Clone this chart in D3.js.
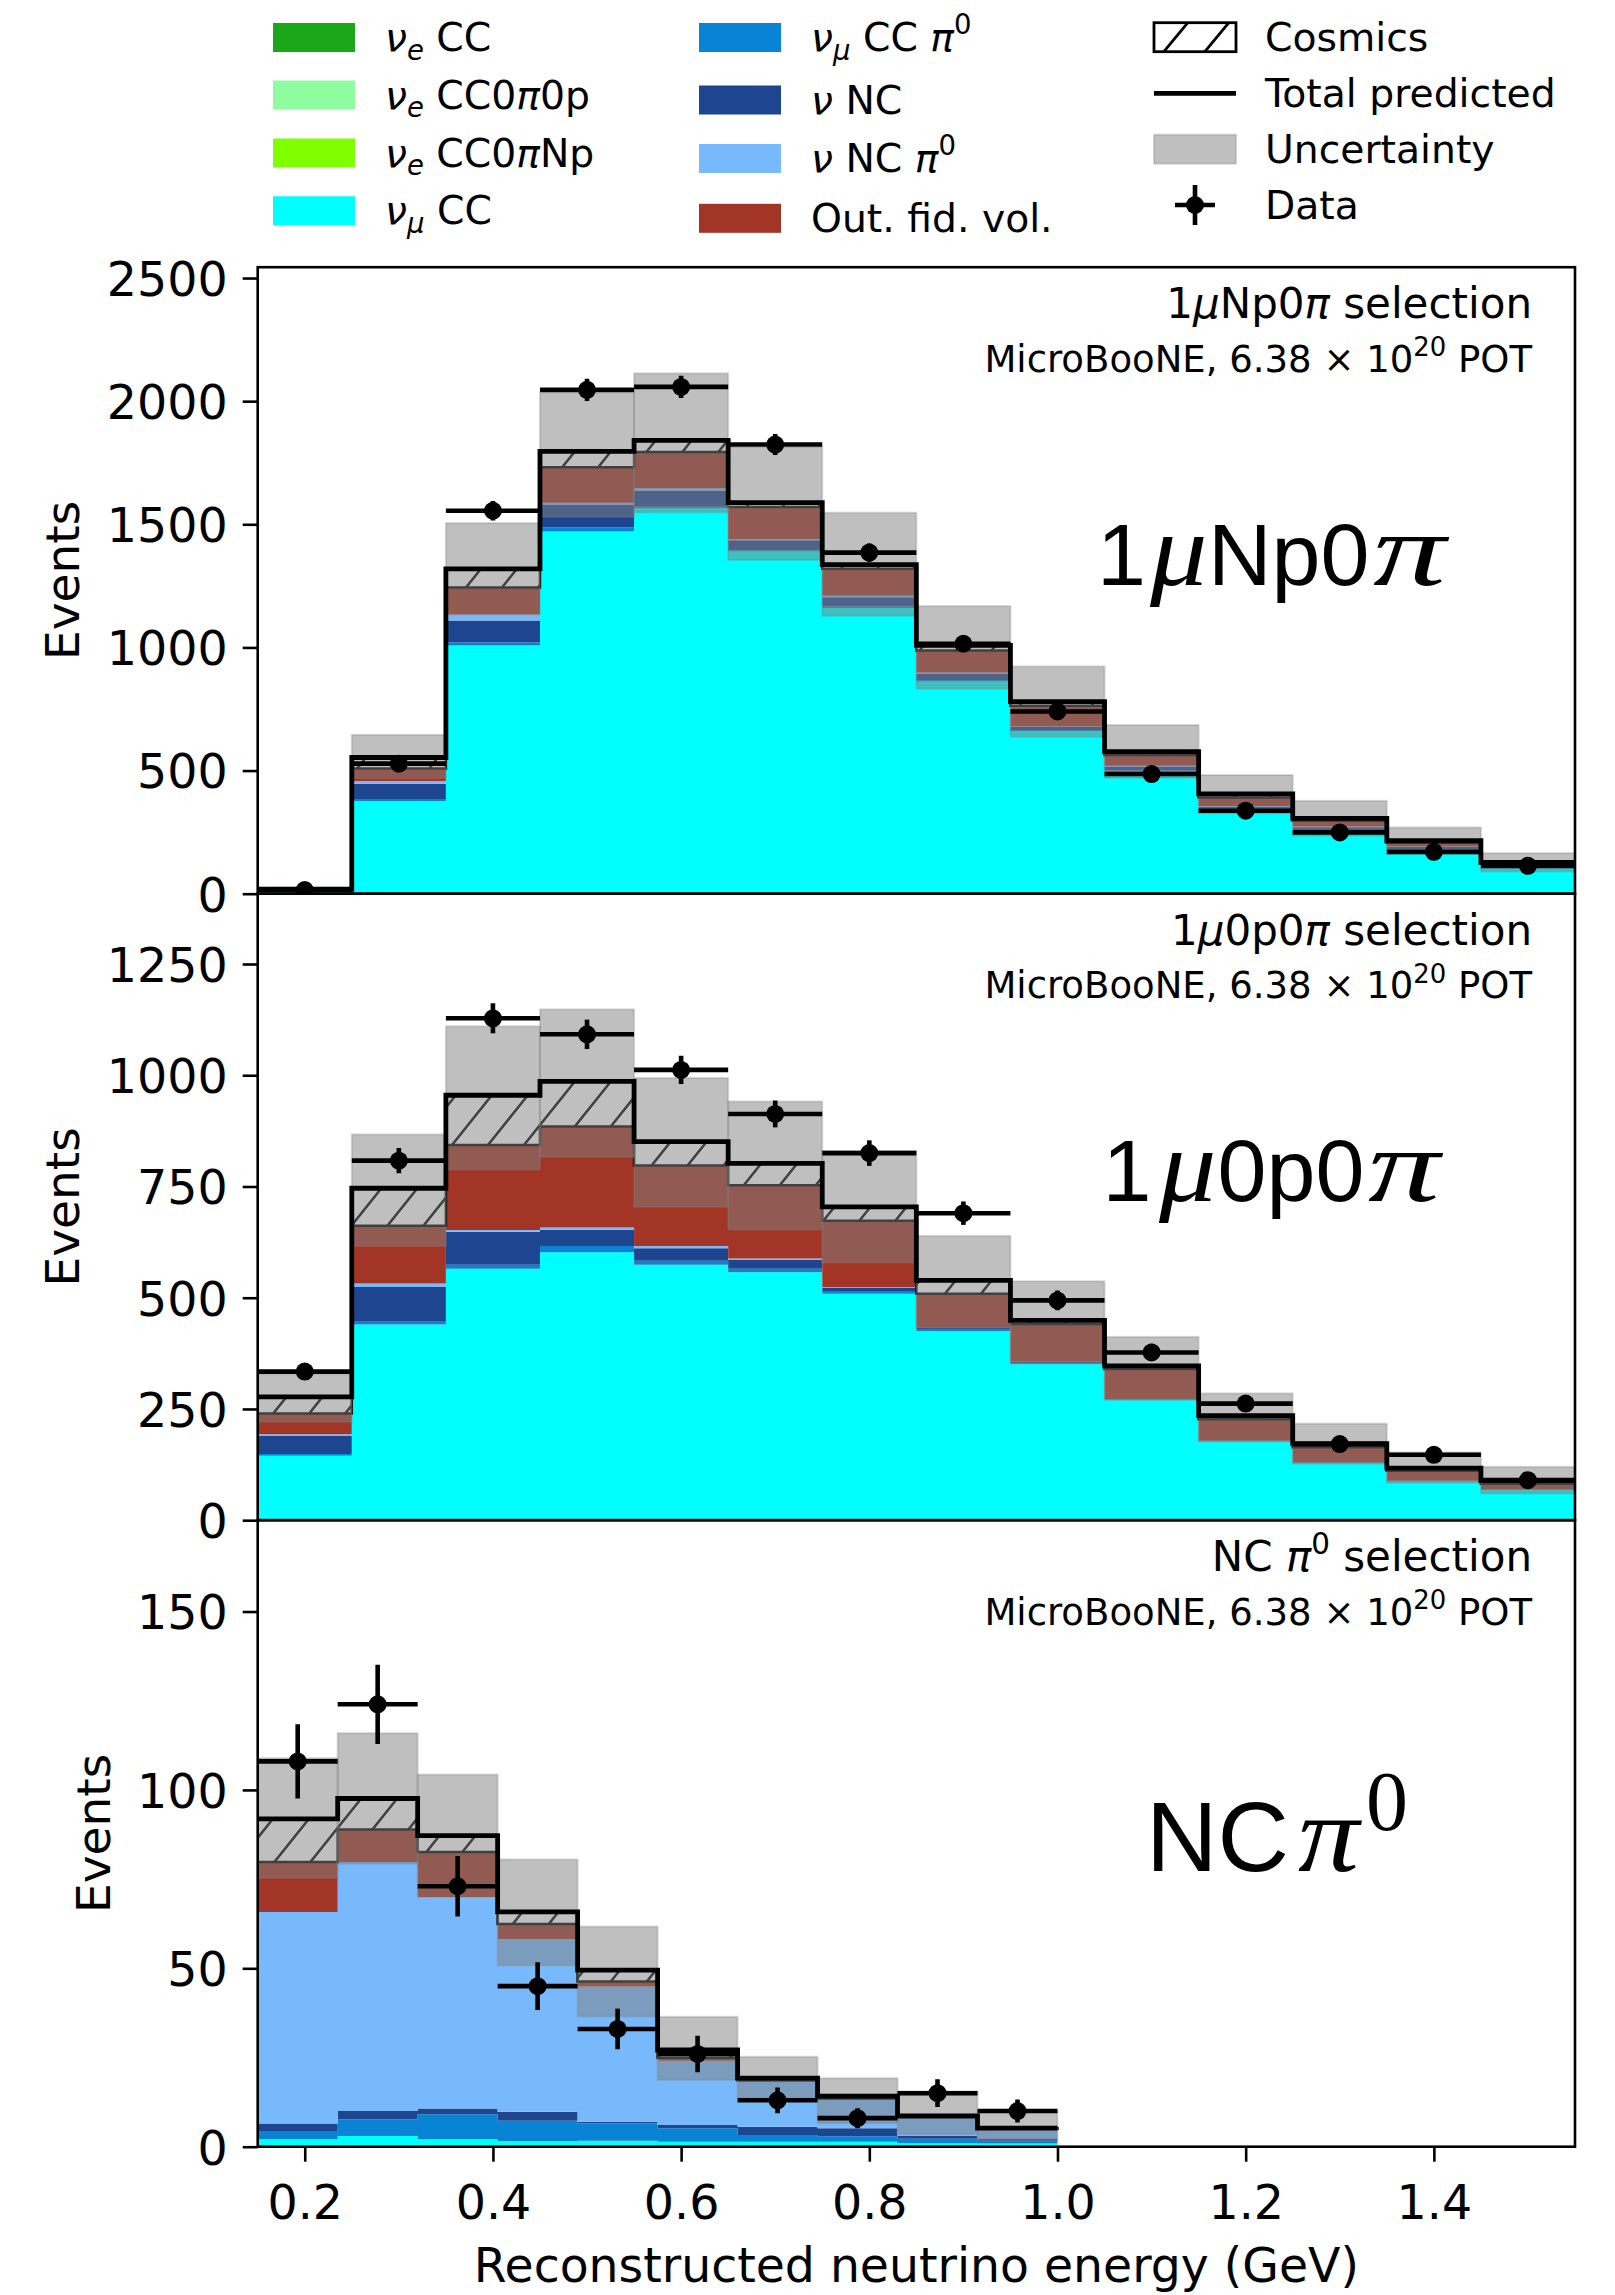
<!DOCTYPE html>
<html>
<head>
<meta charset="utf-8">
<script src="https://cdn.jsdelivr.net/npm/d3@7"></script>
<style>
  body { margin: 0; background: #fff; }
  svg { display: block; }
  text { white-space: pre; }
</style>
</head>
<body>
<svg id="chart" width="1615" height="2295"></svg>
<script>
// ---------------- bin edges (reconstructed neutrino energy, GeV) ----------------
const edgesCC = [0.15, 0.25, 0.35, 0.45, 0.55, 0.65, 0.75, 0.85, 0.95, 1.05, 1.15, 1.25, 1.35, 1.45, 1.55];
const edgesNC = [0.15, 0.235, 0.32, 0.405, 0.49, 0.575, 0.66, 0.745, 0.83, 0.915, 1.0];

// stacking order, bottom to top
const categories = ["nueCC", "nueCC0pi0p", "nueCC0piNp", "numuCC", "numuCCpi0", "nuNC", "nuNCpi0", "outFV", "cosmics"];

// ---------------- 1μNp0π selection ----------------
const np_nueCC      = [0, 0, 0, 0, 0, 0, 0, 0, 0, 0, 0, 0, 0, 0];
const np_nueCC0pi0p = [0, 0, 0, 0, 0, 0, 0, 0, 0, 0, 0, 0, 0, 0];
const np_nueCC0piNp = [0, 0, 0, 0, 0, 0, 0, 0, 0, 0, 0, 0, 0, 0];
const np_numuCC     = [10, 376, 1008, 1471, 1565, 1390, 1160, 862, 660, 495, 335, 255, 178, 105];
const np_numuCCpi0  = [0, 5, 12, 17, 6, 5, 6, 6, 5, 5, 4, 3, 3, 2];
const np_nuNC       = [3, 65, 89, 90, 65, 40, 38, 26, 12, 17, 14, 12, 9, 5];
const np_nuNCpi0    = [0, 12, 25, 10, 10, 5, 6, 4, 2, 3, 3, 3, 2, 1];
const np_outFV      = [3, 50, 109, 144, 148, 130, 110, 90, 84, 43, 35, 23, 15, 9];
const np_cosmics    = [2, 45, 76, 64, 47, 18, 16, 20, 17, 14, 14, 10, 8, 5];
const np_uncLow     = [12, 468, 1134, 1530, 1548, 1355, 1128, 832, 637, 470, 326, 235, 161, 90];
const np_uncHigh    = [24, 645, 1505, 2035, 2113, 1814, 1547, 1168, 923, 685, 482, 377, 269, 165];
const np_data       = [15, 528, 1555, 2046, 2058, 1824, 1385, 1015, 740, 486, 337, 249, 170, 113];
const np_dataErr    = [3.9, 23.0, 39.4, 45.2, 45.4, 42.7, 37.2, 31.9, 27.2, 22.0, 18.4, 15.8, 13.0, 10.6];

// ---------------- 1μ0p0π selection ----------------
const zp_nueCC      = [0, 0, 0, 0, 0, 0, 0, 0, 0, 0, 0, 0, 0, 0];
const zp_nueCC0pi0p = [0, 0, 0, 0, 0, 0, 0, 0, 0, 0, 0, 0, 0, 0];
const zp_nueCC0piNp = [0, 0, 0, 0, 0, 0, 0, 0, 0, 0, 0, 0, 0, 0];
const zp_numuCC     = [145, 440, 565, 602, 574, 557, 509, 425, 351, 270, 177, 128, 87, 68];
const zp_numuCCpi0  = [4, 6, 9, 14, 9, 8, 6, 3, 2, 1, 1, 1, 1, 1];
const zp_nuNC       = [40, 78, 74, 37, 28, 20, 8, 4, 3, 1, 1, 1, 1, 1];
const zp_nuNCpi0    = [4, 8, 4, 5, 5, 3, 1, 0, 0, 0, 0, 0, 0, 0];
const zp_outFV      = [47, 130, 191, 227, 181, 165, 149, 77, 85, 68, 48, 34, 22, 12];
const zp_cosmics    = [37, 84, 112, 101, 54, 49, 31, 30, 8, 7, 8, 8, 6, 7];
const zp_uncLow     = [221, 616, 788, 816, 704, 653, 579, 432, 352, 270, 177, 127, 84, 60];
const zp_uncHigh    = [328, 867, 1110, 1148, 994, 941, 830, 639, 537, 412, 285, 217, 152, 120];
const zp_data       = [334, 808, 1128, 1092, 1012, 913, 825, 690, 494, 377, 262, 171, 147, 90];
const zp_dataErr    = [18.3, 28.4, 33.6, 33.0, 31.8, 30.2, 28.7, 26.3, 22.2, 19.4, 16.2, 13.1, 12.1, 9.5];

// ---------------- NC π0 selection ----------------
const nc_nueCC      = [0.1, 0.1, 0.1, 0.2, 0.3, 0.4, 0.2, 0.4, 0.4, 0.3];
const nc_nueCC0pi0p = [0, 0, 0, 0, 0, 0, 0, 0, 0, 0];
const nc_nueCC0piNp = [0, 0, 0, 0, 0, 0, 0, 0, 0, 0];
const nc_numuCC     = [2.0, 2.9, 2.0, 1.4, 1.4, 1.0, 1.2, 1.0, 0.6, 0.6];
const nc_numuCCpi0  = [2.3, 4.6, 7.0, 5.7, 4.8, 3.8, 1.9, 1.5, 1.2, 0.8];
const nc_nuNC       = [2.1, 2.4, 1.6, 2.5, 0.5, 0.9, 2.3, 2.3, 0.8, 0.6];
const nc_nuNCpi0    = [59.3, 69.8, 59.3, 48.4, 37.9, 18.0, 12.6, 8.0, 5.2, 2.5];
const nc_outFV      = [14.0, 9.1, 12.6, 4.2, 1.4, 0.8, 0.4, 0.3, 0.2, 0.2];
const nc_cosmics    = [12.1, 8.7, 4.6, 3.4, 3.2, 2.2, 0.6, 0.7, 0.2, 0.2];
const nc_uncLow     = [75.3, 79.3, 70.1, 50.8, 36.5, 18.7, 13.6, 6.6, 3.5, 2.0];
const nc_uncHigh    = [108.9, 115.9, 104.3, 80.5, 61.7, 36.4, 25.2, 19.2, 15.5, 9.8];
const nc_data       = [108, 124, 73, 45, 33, 26, 13, 8, 15, 10];
const nc_dataErr    = [10.4, 11.1, 8.5, 6.7, 5.7, 5.1, 3.6, 2.8, 3.9, 3.2];

// ---------------- axis ticks ----------------
const yTicksNp = [0, 500, 1000, 1500, 2000, 2500];
const yTicks0p = [0, 250, 500, 750, 1000, 1250];
const yTicksNC = [0, 50, 100, 150];
const xTicks   = [0.2, 0.4, 0.6, 0.8, 1.0, 1.2, 1.4];

// ---------------- styles ----------------
const colors = {
  nueCC: "#1aa81a", nueCC0pi0p: "#8ffca0", nueCC0piNp: "#80ff00", numuCC: "#00ffff",
  numuCCpi0: "#0984d5", nuNC: "#1e4590", nuNCpi0: "#78b9fc", outFV: "#a23525"
};
const SANS = "DejaVu Sans";
const AX_FS = 47.5;
const svg = d3.select("#chart");
const defs = svg.append("defs");

// diagonal hatch used for the cosmic background
const hatch = defs.append("pattern").attr("id", "hatch").attr("patternUnits", "userSpaceOnUse")
  .attr("width", 36).attr("height", 45);
hatch.append("path").attr("d", "M0,45 L36,0 M-4.5,5.625 L4.5,-5.625 M31.5,50.625 L40.5,39.375")
  .attr("stroke", "#000").attr("stroke-width", 2.5).attr("fill", "none");

const plotL = 257.7, plotR = 1575;
const panelH = 626.5;
const panelTops = [267.2, 893.7, 1520.2];
const x = d3.scaleLinear().domain([0.15, 1.55]).range([plotL, plotR]);

// text with mixed italic / sub- / superscript runs
function rich(parent, px, py, parts, opt) {
  const t = parent.append("text").attr("x", px).attr("y", py)
    .attr("font-family", opt.family || SANS).attr("font-size", opt.size)
    .attr("text-anchor", opt.anchor || "start").attr("fill", "#000");
  let shift = 0;
  parts.forEach(p => {
    const ts = t.append("tspan").text(p.t);
    const target = -(p.shift || 0) * opt.size;
    if (target !== shift) ts.attr("dy", target - shift);
    shift = target;
    if (p.size) ts.attr("font-size", p.size * opt.size);
    if (p.it) ts.attr("font-style", "italic");
    if (p.family) ts.attr("font-family", p.family);
  });
  return t;
}
const SUB = { size: 0.7, shift: -0.22 };
const SUP = { size: 0.7, shift: 0.42 };

// large channel label built from individually placed glyph runs
function bigLabel(parent, pieces) {
  pieces.forEach(p => {
    parent.append("text")
      .attr("transform", `translate(${p.x},${p.y}) scale(${p.sx || 1},1)`)
      .attr("font-family", p.serif ? "Liberation Serif" : "Liberation Sans")
      .attr("font-style", p.it ? "italic" : "normal")
      .attr("font-size", p.size).attr("fill", "#000").text(p.t);
  });
}

const panels = [
  {
    edges: edgesCC, yMax: 2544, yTicks: yTicksNp,
    series: { nueCC: np_nueCC, nueCC0pi0p: np_nueCC0pi0p, nueCC0piNp: np_nueCC0piNp, numuCC: np_numuCC,
              numuCCpi0: np_numuCCpi0, nuNC: np_nuNC, nuNCpi0: np_nuNCpi0, outFV: np_outFV, cosmics: np_cosmics },
    uncLow: np_uncLow, uncHigh: np_uncHigh, data: np_data, dataErr: np_dataErr,
    title: [{ t: "1" }, { t: "μ", it: true }, { t: "Np0" }, { t: "π", it: true }, { t: " selection" }],
    big: [
      { t: "1", x: 1097, y: 584.5, size: 88 },
      { t: "μ", x: 1150, y: 584.5, size: 104, serif: true, it: true, sx: 1.1 },
      { t: "Np0", x: 1208, y: 584.5, size: 88 },
      { t: "π", x: 1373, y: 584.5, size: 104, serif: true, it: true, sx: 1.4 }
    ],
    ylabX: 79
  },
  {
    edges: edgesCC, yMax: 1408, yTicks: yTicks0p,
    series: { nueCC: zp_nueCC, nueCC0pi0p: zp_nueCC0pi0p, nueCC0piNp: zp_nueCC0piNp, numuCC: zp_numuCC,
              numuCCpi0: zp_numuCCpi0, nuNC: zp_nuNC, nuNCpi0: zp_nuNCpi0, outFV: zp_outFV, cosmics: zp_cosmics },
    uncLow: zp_uncLow, uncHigh: zp_uncHigh, data: zp_data, dataErr: zp_dataErr,
    title: [{ t: "1" }, { t: "μ", it: true }, { t: "0p0" }, { t: "π", it: true }, { t: " selection" }],
    big: [
      { t: "1", x: 1102.4, y: 1201, size: 88 },
      { t: "μ", x: 1159, y: 1201, size: 104, serif: true, it: true, sx: 1.1 },
      { t: "0p0", x: 1217.5, y: 1201, size: 88 },
      { t: "π", x: 1368, y: 1201, size: 104, serif: true, it: true, sx: 1.38 }
    ],
    ylabX: 79
  },
  {
    edges: edgesNC, yMax: 175.6, yTicks: yTicksNC,
    series: { nueCC: nc_nueCC, nueCC0pi0p: nc_nueCC0pi0p, nueCC0piNp: nc_nueCC0piNp, numuCC: nc_numuCC,
              numuCCpi0: nc_numuCCpi0, nuNC: nc_nuNC, nuNCpi0: nc_nuNCpi0, outFV: nc_outFV, cosmics: nc_cosmics },
    uncLow: nc_uncLow, uncHigh: nc_uncHigh, data: nc_data, dataErr: nc_dataErr,
    title: [{ t: "NC " }, { t: "π", it: true }, { t: "0", size: 0.7, shift: 0.42 }, { t: " selection", shift: 0 }],
    big: [
      { t: "NC", x: 1146, y: 1870.5, size: 99 },
      { t: "π", x: 1298, y: 1870.5, size: 111, serif: true, it: true, sx: 1.1 },
      { t: "0", x: 1366, y: 1830, size: 84, serif: true }
    ],
    ylabX: 110
  }
];

panels.forEach((cfg, i) => {
  const top = panelTops[i], bottom = top + panelH;
  const y = d3.scaleLinear().domain([0, cfg.yMax]).range([bottom, top]);
  const nb = cfg.edges.length - 1;

  defs.append("clipPath").attr("id", "clip" + i).append("rect")
    .attr("x", plotL).attr("y", top).attr("width", plotR - plotL).attr("height", panelH);
  const body = svg.append("g").attr("clip-path", `url(#clip${i})`);

  // stacked predictions
  const rows = d3.range(nb).map(b => {
    const r = {};
    categories.forEach(k => { r[k] = cfg.series[k][b]; });
    return r;
  });
  const stacked = d3.stack().keys(categories)(rows);
  const stepPts = s => cfg.edges.map((e, j) => {
    const v = s[Math.min(j, nb - 1)];
    return { e, y0: v[0], y1: v[1] };
  });
  const area = d3.area().curve(d3.curveStepAfter)
    .x(d => x(d.e)).y0(d => y(d.y0)).y1(d => y(d.y1));

  stacked.forEach(s => {
    if (s.key === "cosmics") return;
    body.append("path").attr("d", area(stepPts(s))).attr("fill", colors[s.key]);
  });
  const cos = stacked.find(s => s.key === "cosmics");
  body.append("path").attr("d", area(stepPts(cos)))
    .attr("fill", "url(#hatch)").attr("stroke", "#000").attr("stroke-width", 2.5);

  // uncertainty band
  body.selectAll("rect.unc").data(d3.range(nb)).join("rect").attr("class", "unc")
    .attr("x", b => x(cfg.edges[b]))
    .attr("width", b => x(cfg.edges[b + 1]) - x(cfg.edges[b]))
    .attr("y", b => y(cfg.uncHigh[b]))
    .attr("height", b => y(cfg.uncLow[b]) - y(cfg.uncHigh[b]))
    .attr("fill", "#808080").attr("fill-opacity", 0.5)
    .attr("stroke", "#808080").attr("stroke-opacity", 0.3).attr("stroke-width", 2);

  // total prediction step line
  const totals = d3.range(nb).map(b => cos[b][1]);
  const line = d3.line().curve(d3.curveStepAfter).x(d => x(d[0])).y(d => y(d[1]));
  body.append("path")
    .attr("d", line(cfg.edges.map((e, j) => [e, totals[Math.min(j, nb - 1)]])))
    .attr("fill", "none").attr("stroke", "#000").attr("stroke-width", 4.8).attr("stroke-linejoin", "miter");

  // data with error bars
  const dg = svg.append("g").attr("clip-path", `url(#clip${i})`);
  d3.range(nb).forEach(b => {
    const cx = x((cfg.edges[b] + cfg.edges[b + 1]) / 2);
    const cy = y(cfg.data[b]);
    dg.append("line").attr("x1", x(cfg.edges[b])).attr("x2", x(cfg.edges[b + 1]))
      .attr("y1", cy).attr("y2", cy).attr("stroke", "#000").attr("stroke-width", 4.6);
    dg.append("line").attr("x1", cx).attr("x2", cx)
      .attr("y1", y(cfg.data[b] - cfg.dataErr[b])).attr("y2", y(cfg.data[b] + cfg.dataErr[b]))
      .attr("stroke", "#000").attr("stroke-width", 4.6);
    dg.append("circle").attr("cx", cx).attr("cy", cy).attr("r", 9).attr("fill", "#000");
  });

  // frame
  svg.append("rect").attr("x", plotL).attr("y", top).attr("width", plotR - plotL).attr("height", panelH)
    .attr("fill", "none").attr("stroke", "#000").attr("stroke-width", 2.6);

  // y axis
  const ay = svg.append("g").attr("transform", `translate(${plotL},0)`)
    .call(d3.axisLeft(y).tickValues(cfg.yTicks).tickSize(15).tickPadding(15).tickFormat(d3.format("d")));
  ay.attr("font-family", SANS).attr("font-size", AX_FS);
  ay.select(".domain").remove();
  ay.selectAll(".tick line").attr("stroke", "#000").attr("stroke-width", 2.6);
  ay.selectAll(".tick text").attr("fill", "#000").attr("dy", "0.365em");

  svg.append("text").attr("transform", `translate(${cfg.ylabX},${(top + bottom) / 2}) rotate(-90)`)
    .attr("text-anchor", "middle").attr("font-family", SANS).attr("font-size", 47).text("Events");

  // selection annotation
  rich(svg, 1532, top + 51, cfg.title, { size: 42, anchor: "end" });
  rich(svg, 1532, top + 104.5,
    [{ t: "MicroBooNE, 6.38 × 10" }, { t: "20", size: 0.7, shift: 0.42 }, { t: " POT", shift: 0 }],
    { size: 37, anchor: "end" });

  // large channel label
  bigLabel(svg, cfg.big);

  if (i === 2) {
    const ax = svg.append("g").attr("transform", `translate(0,${bottom})`)
      .call(d3.axisBottom(x).tickValues(xTicks).tickSize(15).tickFormat(d3.format(".1f")));
    ax.attr("font-family", SANS).attr("font-size", AX_FS);
    ax.select(".domain").remove();
    ax.selectAll(".tick line").attr("stroke", "#000").attr("stroke-width", 2.6);
    ax.selectAll(".tick text").attr("fill", "#000").attr("y", 2219.5 - bottom).attr("dy", 0);
    svg.append("text").attr("x", (plotL + plotR) / 2).attr("y", 2282).attr("text-anchor", "middle")
      .attr("font-family", SANS).attr("font-size", 47.3).text("Reconstructed neutrino energy (GeV)");
  }
});

// ---------------- legend ----------------
const legendItems = [
  { key: "nueCC", col: 0, cy: 37.5, label: [{ t: "ν", it: true }, { t: "e", it: true, ...SUB }, { t: " CC", shift: 0 }] },
  { key: "nueCC0pi0p", col: 0, cy: 95, label: [{ t: "ν", it: true }, { t: "e", it: true, ...SUB }, { t: " CC0", shift: 0 }, { t: "π", it: true }, { t: "0p" }] },
  { key: "nueCC0piNp", col: 0, cy: 153, label: [{ t: "ν", it: true }, { t: "e", it: true, ...SUB }, { t: " CC0", shift: 0 }, { t: "π", it: true }, { t: "Np" }] },
  { key: "numuCC", col: 0, cy: 210.8, label: [{ t: "ν", it: true }, { t: "μ", it: true, ...SUB }, { t: " CC", shift: 0 }] },
  { key: "numuCCpi0", col: 1, cy: 37.5, label: [{ t: "ν", it: true }, { t: "μ", it: true, ...SUB }, { t: " CC ", shift: 0 }, { t: "π", it: true }, { t: "0", ...SUP }] },
  { key: "nuNC", col: 1, cy: 100, label: [{ t: "ν", it: true }, { t: " NC" }] },
  { key: "nuNCpi0", col: 1, cy: 158.5, label: [{ t: "ν", it: true }, { t: " NC " }, { t: "π", it: true }, { t: "0", ...SUP }] },
  { key: "outFV", col: 1, cy: 218.3, label: [{ t: "Out. fid. vol." }] },
  { key: "cosmics", col: 2, cy: 37.2, label: [{ t: "Cosmics" }] },
  { key: "total", col: 2, cy: 93.3, label: [{ t: "Total predicted" }] },
  { key: "unc", col: 2, cy: 149.2, label: [{ t: "Uncertainty" }] },
  { key: "data", col: 2, cy: 205, label: [{ t: "Data" }] }
];
const colSwatchX = [273, 699, 1154];
const colTextX = [385, 811, 1265];
const swW = 82, swH = 29;
const lg = svg.append("g");
legendItems.forEach(it => {
  const sx = colSwatchX[it.col];
  if (colors[it.key]) {
    lg.append("rect").attr("x", sx).attr("y", it.cy - swH / 2).attr("width", swW).attr("height", swH)
      .attr("fill", colors[it.key]);
  } else if (it.key === "cosmics") {
    lg.append("rect").attr("x", sx).attr("y", it.cy - swH / 2).attr("width", swW).attr("height", swH)
      .attr("fill", "#fff").attr("stroke", "#000").attr("stroke-width", 2.8);
    [0.12, 0.62].forEach(f => {
      lg.append("line").attr("x1", sx + swW * f).attr("y1", it.cy + swH / 2)
        .attr("x2", sx + swW * f + 24).attr("y2", it.cy - swH / 2)
        .attr("stroke", "#000").attr("stroke-width", 2.8);
    });
  } else if (it.key === "total") {
    lg.append("line").attr("x1", sx).attr("x2", sx + swW).attr("y1", it.cy).attr("y2", it.cy)
      .attr("stroke", "#000").attr("stroke-width", 4.8);
  } else if (it.key === "unc") {
    lg.append("rect").attr("x", sx).attr("y", it.cy - swH / 2).attr("width", swW).attr("height", swH)
      .attr("fill", "#808080").attr("fill-opacity", 0.5)
      .attr("stroke", "#808080").attr("stroke-opacity", 0.3).attr("stroke-width", 2);
  } else if (it.key === "data") {
    const cx = sx + swW / 2;
    lg.append("line").attr("x1", cx - 20).attr("x2", cx + 20).attr("y1", it.cy).attr("y2", it.cy)
      .attr("stroke", "#000").attr("stroke-width", 4.6);
    lg.append("line").attr("x1", cx).attr("x2", cx).attr("y1", it.cy - 20).attr("y2", it.cy + 20)
      .attr("stroke", "#000").attr("stroke-width", 4.6);
    lg.append("circle").attr("cx", cx).attr("cy", it.cy).attr("r", 9).attr("fill", "#000");
  }
  rich(lg, colTextX[it.col], it.cy + 13.5, it.label, { size: 39.3 });
});
</script>
</body>
</html>
